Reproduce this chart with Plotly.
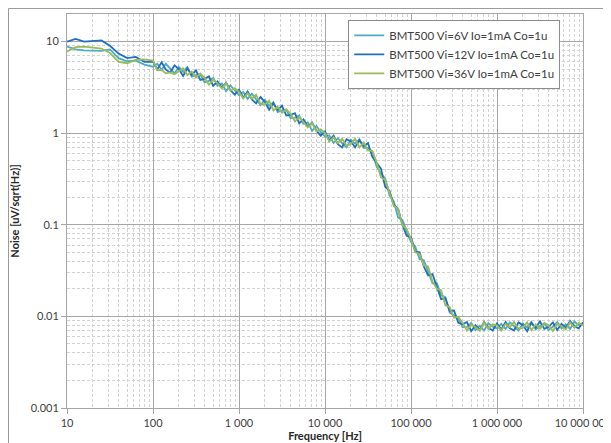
import plotly.graph_objects as go

# ── Data ───────────────────────────────────────────────────────────────────

FREQ_HZ = [
    10, 12.6, 15.8, 20, 25.1, 31.6, 39.8, 50.1, 63.1, 79.4,
    100, 112, 126, 141, 158, 178, 200, 224, 251, 282,
    316, 355, 398, 447, 501, 562, 631, 708, 794, 891,
    1000, 1120, 1260, 1410, 1580, 1780, 2000, 2240, 2510, 2820,
    3160, 3550, 3980, 4470, 5010, 5620, 6310, 7080, 7940, 8910,
    10000, 11200, 12600, 14100, 15800, 17800, 20000, 22400, 25100, 28200,
    31600, 35500, 39800, 44700, 50100, 56200, 63100, 70800, 79400, 89100,
    100000, 112000, 126000, 141000, 158000, 178000, 200000, 224000, 251000, 282000,
    316000, 355000, 398000, 447000, 501000, 562000, 631000, 708000, 794000, 891000,
    1000000, 1120000, 1260000, 1410000, 1580000, 1780000, 2000000, 2240000, 2510000, 2820000,
    3160000, 3550000, 3980000, 4470000, 5010000, 5620000, 6310000, 7080000, 7940000, 8910000,
    10000000,
]

NOISE_6V = [
    8.8, 8.2, 8.0, 7.9, 7.9, 8.2, 6.6, 6.1, 6.2, 5.6,
    5.32, 5.72, 4.93, 5.72, 5.1, 4.5, 5.29, 4.66, 5.26, 4.14,
    4.3, 4.39, 3.59, 3.72, 4.02, 3.29, 3.48, 2.88, 3.32, 2.9,
    2.61, 2.81, 2.37, 2.7, 2.35, 2.03, 2.32, 1.99, 2.18, 1.7,
    1.77, 1.8, 1.46, 1.47, 1.56, 1.26, 1.31, 1.06, 1.2, 1.03,
    0.92, 0.95, 0.78, 0.88, 0.78, 0.70, 0.85, 0.77, 0.86, 0.69,
    0.69, 0.63, 0.43, 0.36, 0.32, 0.21, 0.18, 0.12, 0.113, 0.084,
    0.065, 0.058, 0.042, 0.041, 0.031, 0.023, 0.023, 0.017, 0.0162, 0.011,
    0.0103, 0.0097, 0.0076, 0.0077, 0.0085, 0.0071, 0.0079, 0.007, 0.0084, 0.0077,
    0.0074, 0.0083, 0.0073, 0.0086, 0.0078, 0.007, 0.0084, 0.0076, 0.0087, 0.0072,
    0.0078, 0.0084, 0.0071, 0.0077, 0.0087, 0.0074, 0.0082, 0.0073, 0.0088, 0.008,
    0.0083,
]

NOISE_12V = [
    10.0, 10.7, 10.0, 10.1, 10.3, 9.0, 7.4, 6.6, 6.8, 6.0,
    6.05, 4.97, 5.94, 4.94, 4.59, 5.5, 5.0, 4.22, 5.12, 4.32,
    4.86, 3.81, 3.91, 4.18, 3.29, 3.68, 3.15, 3.55, 2.96, 2.64,
    2.97, 2.44, 2.86, 2.33, 2.12, 2.48, 2.19, 1.8, 2.13, 1.78,
    2.0, 1.56, 1.58, 1.65, 1.28, 1.41, 1.18, 1.31, 1.07, 0.94,
    1.05, 0.83, 0.94, 0.76, 0.70, 0.86, 0.81, 0.70, 0.84, 0.72,
    0.78, 0.55, 0.47, 0.41, 0.26, 0.236, 0.165, 0.15, 0.10, 0.076,
    0.073, 0.051, 0.05, 0.035, 0.028, 0.029, 0.021, 0.0154, 0.0158, 0.0115,
    0.0116, 0.0085, 0.0082, 0.0087, 0.0069, 0.008, 0.0071, 0.0087, 0.0075, 0.007,
    0.0084, 0.0072, 0.0087, 0.0074, 0.007, 0.0086, 0.008, 0.0069, 0.0085, 0.0075,
    0.0088, 0.0073, 0.0077, 0.0086, 0.0071, 0.0083, 0.0075, 0.0089, 0.0078, 0.0074,
    0.0086,
]

NOISE_36V = [
    7.8, 8.7, 8.8, 8.6, 8.4, 7.5, 6.0, 5.8, 6.3, 6.4,
    6.2, 4.86, 4.9, 4.5, 4.6, 4.4, 4.7, 5.1, 4.3, 4.7,
    4.04, 4.47, 4.03, 3.38, 3.87, 3.5, 3.08, 3.52, 2.9, 3.1,
    2.83, 2.39, 2.73, 2.38, 2.63, 2.09, 2.06, 2.26, 1.77, 1.94,
    1.66, 1.83, 1.63, 1.34, 1.51, 1.34, 1.16, 1.3, 1.05, 1.1,
    1.0, 0.81, 0.9, 0.78, 0.87, 0.73, 0.76, 0.87, 0.70, 0.79,
    0.65, 0.64, 0.48, 0.33, 0.31, 0.225, 0.16, 0.149, 0.099, 0.09,
    0.07, 0.05, 0.048, 0.036, 0.035, 0.024, 0.02, 0.0193, 0.0132, 0.0126,
    0.0097, 0.0099, 0.0085, 0.007, 0.0082, 0.0076, 0.007, 0.0086, 0.0073, 0.0082,
    0.008, 0.007, 0.0083, 0.0076, 0.0087, 0.0073, 0.0075, 0.0086, 0.0071, 0.0082,
    0.0073, 0.0085, 0.008, 0.0069, 0.0083, 0.0078, 0.0072, 0.0086, 0.0075, 0.0085,
    0.008,
]

SERIES_NAMES = [
    "BMT500 Vi=6V Io=1mA Co=1u",
    "BMT500 Vi=12V Io=1mA Co=1u",
    "BMT500 Vi=36V Io=1mA Co=1u",
]

X_TICKS = [10, 100, 1000, 10000, 100000, 1000000, 10000000]
X_TICK_TEXT = ["10", "100", "1 000", "10 000", "100 000", "1 000 000", "10 000 000"]
Y_TICKS = [0.001, 0.01, 0.1, 1, 10]
Y_TICK_TEXT = ["0.001", "0.01", "0.1", "1", "10"]

# ── Styling ────────────────────────────────────────────────────────────────

COLORS = ["#4bacc6", "#1f6fc0", "#9bbb59"]
FONT = "Lato, 'Open Sans', sans-serif"
TEXT_COLOR = "#404040"
MAJOR_GRID = "#a6a6a6"
MINOR_GRID = "#d2d2d2"

x_minor = [m * 10 ** d for d in range(1, 7) for m in range(2, 10)]
y_minor = [m * 10.0 ** d for d in range(-3, 2) for m in range(2, 10)]

fig = go.Figure()
for name, vals, color in zip(SERIES_NAMES, [NOISE_6V, NOISE_12V, NOISE_36V], COLORS):
    fig.add_trace(
        go.Scatter(
            x=FREQ_HZ,
            y=vals,
            mode="lines",
            name=name,
            line=dict(color=color, width=1.8),
        )
    )

axis_common = dict(
    type="log",
    automargin=False,
    showgrid=True,
    gridcolor=MAJOR_GRID,
    gridwidth=1,
    showline=True,
    linecolor=MAJOR_GRID,
    mirror=True,
    zeroline=False,
    ticks="outside",
    ticklen=5,
    tickcolor=MAJOR_GRID,
    ticklabeloverflow="allow",
    tickfont=dict(family=FONT, size=11, color=TEXT_COLOR),
)

# page body adds an 8px offset, so the figure is 8px smaller than the window
fig.update_layout(
    width=603,
    height=435,
    paper_bgcolor="white",
    plot_bgcolor="white",
    font=dict(family=FONT, color=TEXT_COLOR),
    margin=dict(l=59, r=28, t=6, b=35),
    xaxis=dict(
        **axis_common,
        range=[1, 7],
        tickvals=X_TICKS,
        ticktext=X_TICK_TEXT,
        minor=dict(tickvals=x_minor, showgrid=True, gridcolor=MINOR_GRID,
                   griddash="3px,2px", ticks=""),
        title=dict(text="<b>Frequency [Hz]</b>", standoff=4,
                   font=dict(family=FONT, size=11, color="#262626")),
    ),
    yaxis=dict(
        **axis_common,
        range=[-3, 1.301],
        tickvals=Y_TICKS,
        ticktext=Y_TICK_TEXT,
        minor=dict(tickvals=y_minor, showgrid=True, gridcolor=MINOR_GRID,
                   griddash="3px,2px", ticks=""),
        title=dict(text="<b>Noise [uV/sqrt(Hz)]</b>", standoff=12,
                   font=dict(family=FONT, size=11, color="#262626")),
    ),
    legend=dict(
        x=0.545, y=0.985, xanchor="left", yanchor="top",
        bgcolor="white", bordercolor="#8c8c8c", borderwidth=1,
        font=dict(family=FONT, size=11.5, color=TEXT_COLOR),
        itemwidth=30,
        tracegroupgap=0,
    ),
    shapes=[
        dict(type="rect", xref="paper", yref="paper",
             x0=-0.1134, x1=1.2, y0=-0.3, y1=1.014,
             line=dict(color="#9a9a9a", width=1), layer="below"),
    ],
)

fig.write_html("out.html")
